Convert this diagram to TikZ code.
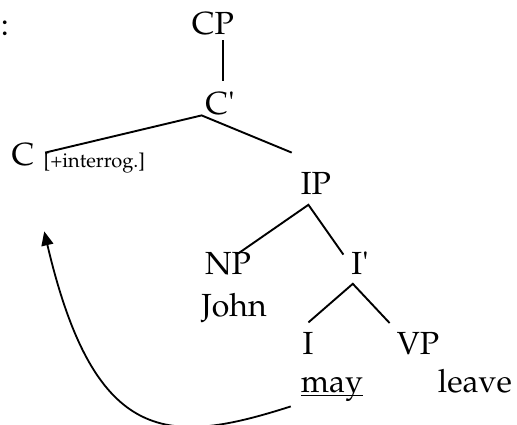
\documentclass[tikz,border=0pt]{standalone}
\usepackage[T1]{fontenc}
\usepackage{mathpazo}
\usepackage{tikz}
\usetikzlibrary{positioning, arrows.meta}
\tikzstyle{phrase} = [inner sep=0pt, text height=11pt, text depth=0pt, font=\fontsize{16}{18}\selectfont]
\tikzstyle{feature} = [inner sep=0pt, text height=7pt, text depth=0pt, font=\fontsize{10}{12}\selectfont]
\tikzstyle{branch} = [line width=0.95pt]
\tikzstyle{arrow} = [line width=0.9pt, ->, >={Triangle[length=7pt, width=6pt]}]
\newlength\ulwd
\newcommand\lineunder[1]{\settowidth\ulwd{#1}\rlap{\rule[-2pt]{\ulwd}{0.7pt}}#1}

\begin{document}
\begin{tikzpicture} [x=1pt, y=1pt, node distance=40pt]
        \useasboundingbox (0,0) rectangle (258.5,-212);
        \node (colon) [phrase] at (2.5,-12) {:};
        \node (cp) [phrase] at (106.5,-11.5) {CP};
        \node (cbar) [phrase, below of=cp, xshift=3.5pt] {C\textquotesingle};
        \node (c) [phrase, below of=cbar, node distance=25.5pt, xshift=-98.5pt] {C};
        \node (feat) [feature, right=4.25pt of c.base east, anchor=base west, yshift=-1pt] {[+interrog.]};
        \node (ip) [phrase, below of=cbar, xshift=48pt] {IP};
        \node (np) [phrase, below of=ip, xshift=-44pt] {NP};
        \node (john) [phrase, below of=np, node distance=21pt, xshift=3pt] {John};
        \node (ibar) [phrase, below of=ip, xshift=22pt] {I\textquotesingle};
        \node (i) [phrase, below of=ibar, xshift=-26pt] {I};
        \node (vp) [phrase, below of=ibar, xshift=29pt] {VP};
        \node (may) [phrase, below of=i, node distance=19pt, xshift=12pt] {\lineunder{may}};
        \node (leave) [phrase, below of=vp, node distance=19pt, xshift=28.5pt] {leave};

        \draw[branch] ([shift={(4.8,-3)}]cp.south) -- ([shift={(1.3,5.5)}]cbar.north);
        \draw[branch] ([shift={(5.2,-5)}]c.north east) -- ([shift={(-9.2,-0.5)}]cbar.south) -- ([shift={(-4.4,9.5)}]ip.north west);
        \draw[branch] ([shift={(5,-1)}]np.north) -- ([shift={(-3.8,-5.2)}]ip.south) -- ([shift={(-8.3,-1.5)}]ibar.north);
        \draw[branch] ([shift={(0.2,4.6)}]i.north) -- ([shift={(-3.6,-4.7)}]ibar.south) -- ([shift={(-3.4,4.3)}]vp.north west);
        \draw[arrow] ([shift={(-4.9,-7)}]may.south west) .. controls (85,-222.5) and (47.5,-224) .. ([shift={(0.5,-32)}]feat.south west);
\end{tikzpicture}
\end{document}
